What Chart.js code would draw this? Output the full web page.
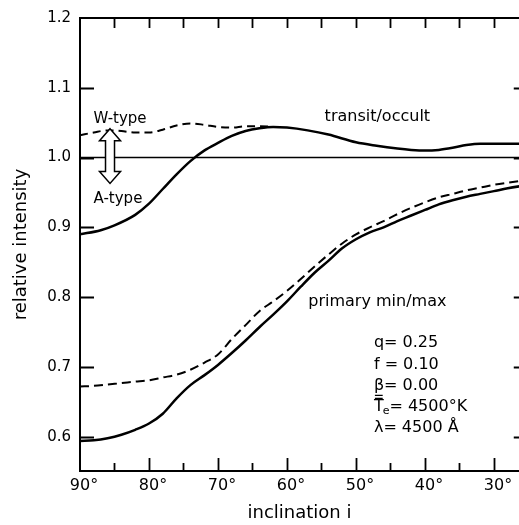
<!DOCTYPE html>
<html lang="en">
<head>
<title>Relative intensity vs inclination</title>
<script src="https://cdn.jsdelivr.net/npm/chart.js@4.4.0/dist/chart.umd.min.js"></script>
<style>
  body { margin: 0; background: #fff; }
  #wrap { width: 519px; height: 525px; }
</style>
</head>
<body>
<div id="wrap"><canvas id="chart" width="519" height="525"></canvas></div>
<script>
// values: inclination (deg) -> relative intensity
const transitDeg   = [90, 87, 85, 82, 80, 78, 76, 74, 72, 70, 68, 66, 64, 62, 60, 57, 54, 50, 47, 44, 42, 40, 38, 36, 34, 32, 30, 28, 25];
const transitSolid = [0.890, 0.896, 0.903, 0.918, 0.934, 0.955, 0.976, 0.995, 1.010, 1.021, 1.031, 1.038, 1.042, 1.044, 1.043, 1.039, 1.033, 1.022, 1.017, 1.013, 1.011, 1.010, 1.011, 1.014, 1.018, 1.020, 1.020, 1.020, 1.020];

const wTypeDeg    = [90, 88, 86, 84, 82, 80, 78, 76, 74, 72, 70, 68, 66, 64, 62];
const wTypeDashed = [1.032, 1.036, 1.039, 1.038, 1.036, 1.036, 1.040, 1.046, 1.049, 1.047, 1.044, 1.043, 1.045, 1.045, 1.044];

const primaryDeg    = [90, 88, 86, 84, 82, 80, 78, 76, 74, 72, 70, 68, 66, 64, 62, 60, 58, 56, 54, 52, 50, 48, 46, 44, 42, 40, 38, 36, 34, 32, 30, 28, 25];
const primarySolid  = [0.594, 0.595, 0.598, 0.603, 0.610, 0.619, 0.633, 0.655, 0.674, 0.688, 0.703, 0.720, 0.738, 0.757, 0.775, 0.794, 0.815, 0.835, 0.852, 0.870, 0.883, 0.893, 0.900, 0.909, 0.917, 0.925, 0.933, 0.939, 0.944, 0.948, 0.952, 0.956, 0.961];
const primaryDashed = [0.672, 0.673, 0.675, 0.677, 0.679, 0.681, 0.685, 0.689, 0.696, 0.706, 0.718, 0.740, 0.760, 0.780, 0.794, 0.809, 0.826, 0.844, 0.861, 0.877, 0.890, 0.900, 0.909, 0.919, 0.928, 0.936, 0.943, 0.948, 0.953, 0.957, 0.961, 0.964, 0.968];

const refDeg   = [90, 25];
const refLevel = [1.0, 1.0];

const xTickValues = [90, 85, 80, 75, 70, 65, 60, 55, 50, 45, 40, 35, 30];
const yTickValues = [0.6, 0.7, 0.8, 0.9, 1.0, 1.1, 1.2];
const xRightEdge = 25.1;   // the frame's right side lies just past the cropped edge

const paramLines = ['q= 0.25', 'f = 0.10', '\u03b2= 0.00', 'Te', '\u03bb= 4500 \u00c5'];

const FONT = '"DejaVu Sans", sans-serif';

function pts(xs, ys) {
  return xs.map((x, i) => ({ x: x, y: ys[i] }));
}

// frame, inward ticks and text labels
const decor = {
  id: 'decor',
  afterDatasetsDraw(chart) {
    const ctx = chart.ctx;
    const a = chart.chartArea;
    const xs = chart.scales.x, ys = chart.scales.y;
    const right = xs.getPixelForValue(xRightEdge);
    ctx.save();
    ctx.strokeStyle = '#000';
    ctx.fillStyle = '#000';
    ctx.lineWidth = 2;
    ctx.beginPath();
    ctx.moveTo(right, a.top); ctx.lineTo(a.left, a.top);
    ctx.lineTo(a.left, a.bottom); ctx.lineTo(right, a.bottom);
    ctx.stroke();

    ctx.lineWidth = 1.8;
    ctx.beginPath();
    xTickValues.forEach(v => {
      if (v === 90) return;
      const px = Math.round(xs.getPixelForValue(v)) + 0.5;
      ctx.moveTo(px, a.top); ctx.lineTo(px, a.top + 10);
      const len = v % 10 === 0 ? 13 : 8;
      ctx.moveTo(px, a.bottom); ctx.lineTo(px, a.bottom - len);
    });
    yTickValues.forEach(v => {
      if (v === 1.2) return;
      const py = Math.round(ys.getPixelForValue(v)) + 0.5;
      ctx.moveTo(a.left, py); ctx.lineTo(a.left + 14, py);
      ctx.moveTo(right, py); ctx.lineTo(right - 14, py);
    });
    ctx.stroke();

    // hollow double arrow between W-type and A-type
    const ax = xs.getPixelForValue(85.65);
    const yt = ys.getPixelForValue(1.0414);
    const yb = ys.getPixelForValue(0.963);
    const hw = 10.5, sw = 4.5, hl = 12;
    ctx.beginPath();
    ctx.moveTo(ax, yt);
    ctx.lineTo(ax + hw, yt + hl); ctx.lineTo(ax + sw, yt + hl);
    ctx.lineTo(ax + sw, yb - hl); ctx.lineTo(ax + hw, yb - hl);
    ctx.lineTo(ax, yb);
    ctx.lineTo(ax - hw, yb - hl); ctx.lineTo(ax - sw, yb - hl);
    ctx.lineTo(ax - sw, yt + hl); ctx.lineTo(ax - hw, yt + hl);
    ctx.closePath();
    ctx.fillStyle = '#fff';
    ctx.fill();
    ctx.lineWidth = 1.5;
    ctx.stroke();

    ctx.fillStyle = '#000';
    ctx.textBaseline = 'middle';
    ctx.textAlign = 'center';
    ctx.font = '15px ' + FONT;
    ctx.fillText('W-type', xs.getPixelForValue(84.2), ys.getPixelForValue(1.0557));
    ctx.fillText('A-type', xs.getPixelForValue(84.5), ys.getPixelForValue(0.94));
    ctx.font = '16px ' + FONT;
    ctx.fillText('transit/occult', xs.getPixelForValue(46.9), ys.getPixelForValue(1.0586));
    ctx.fillText('primary min/max', xs.getPixelForValue(46.9), ys.getPixelForValue(0.793));

    // parameter block
    ctx.textAlign = 'left';
    const px0 = xs.getPixelForValue(47.4);
    const rowY = [0.734, 0.703, 0.673, 0.643, 0.613];
    paramLines.forEach((s, i) => {
      const py = ys.getPixelForValue(rowY[i]);
      ctx.font = '16px ' + FONT;
      if (s !== 'Te') { ctx.fillText(s, px0, py); return; }
      const wT = ctx.measureText('T').width;
      ctx.fillText('T', px0, py);
      ctx.lineWidth = 1.3;
      ctx.beginPath();
      ctx.moveTo(px0 + 1, py - 8.5); ctx.lineTo(px0 + wT - 1, py - 8.5);
      ctx.moveTo(px0 + 1, py - 11.5); ctx.lineTo(px0 + wT - 1, py - 11.5);
      ctx.stroke();
      ctx.font = '11px ' + FONT;
      const we = ctx.measureText('e').width;
      ctx.fillText('e', px0 + wT - 1, py + 4);
      ctx.font = '16px ' + FONT;
      ctx.fillText('= 4500\u00b0K', px0 + wT + we - 1, py);
    });
    ctx.restore();
  }
};

const ctx = document.getElementById('chart').getContext('2d');
const chart = new Chart(ctx, {
  type: 'line',
  data: {
    datasets: [
      { data: pts(refDeg, refLevel), borderColor: '#000', borderWidth: 1.5, pointRadius: 0 },
      { data: pts(transitDeg, transitSolid), borderColor: '#000', borderWidth: 2.5, pointRadius: 0, cubicInterpolationMode: 'monotone' },
      { data: pts(wTypeDeg, wTypeDashed), borderColor: '#000', borderWidth: 2, borderDash: [8, 5], pointRadius: 0, cubicInterpolationMode: 'monotone' },
      { data: pts(primaryDeg, primarySolid), borderColor: '#000', borderWidth: 2.5, pointRadius: 0, cubicInterpolationMode: 'monotone' },
      { data: pts(primaryDeg, primaryDashed), borderColor: '#000', borderWidth: 2, borderDash: [9, 5], pointRadius: 0, cubicInterpolationMode: 'monotone' }
    ]
  },
  options: {
    responsive: false,
    animation: false,
    devicePixelRatio: 1,
    layout: { padding: { top: 17, right: 0, left: 0, bottom: 0 } },
    plugins: { legend: { display: false }, tooltip: { enabled: false } },
    scales: {
      x: {
        type: 'linear',
        reverse: true,
        min: 26.37,
        max: 90,
        afterBuildTicks: s => { s.ticks = xTickValues.map(v => ({ value: v })); },
        afterFit: s => { s.height = 54; s.paddingLeft = 0; s.paddingRight = 0; },
        grid: { display: false, tickLength: 0 },
        border: { display: false },
        ticks: {
          autoSkip: false,
          maxRotation: 0,
          padding: 5,
          labelOffset: 4,
          color: '#000',
          font: { family: FONT, size: 16 },
          callback: v => (v % 10 === 0 ? v + '\u00b0' : '')
        },
        title: { display: true, text: 'inclination i', color: '#000', font: { family: FONT, size: 18 }, padding: { top: 4, bottom: 1 } }
      },
      y: {
        min: 0.551,
        max: 1.2,
        afterBuildTicks: s => { s.ticks = yTickValues.map(v => ({ value: v })); },
        afterFit: s => { s.width = 80; },
        grid: { display: false, tickLength: 0 },
        border: { display: false },
        ticks: {
          padding: 9,
          color: '#000',
          font: { family: FONT, size: 15 },
          callback: v => v.toFixed(1)
        },
        title: { display: true, text: 'relative intensity', color: '#000', font: { family: FONT, size: 18 }, padding: { top: 11, bottom: 4 } }
      }
    }
  },
  plugins: [decor]
});
</script>
</body>
</html>
